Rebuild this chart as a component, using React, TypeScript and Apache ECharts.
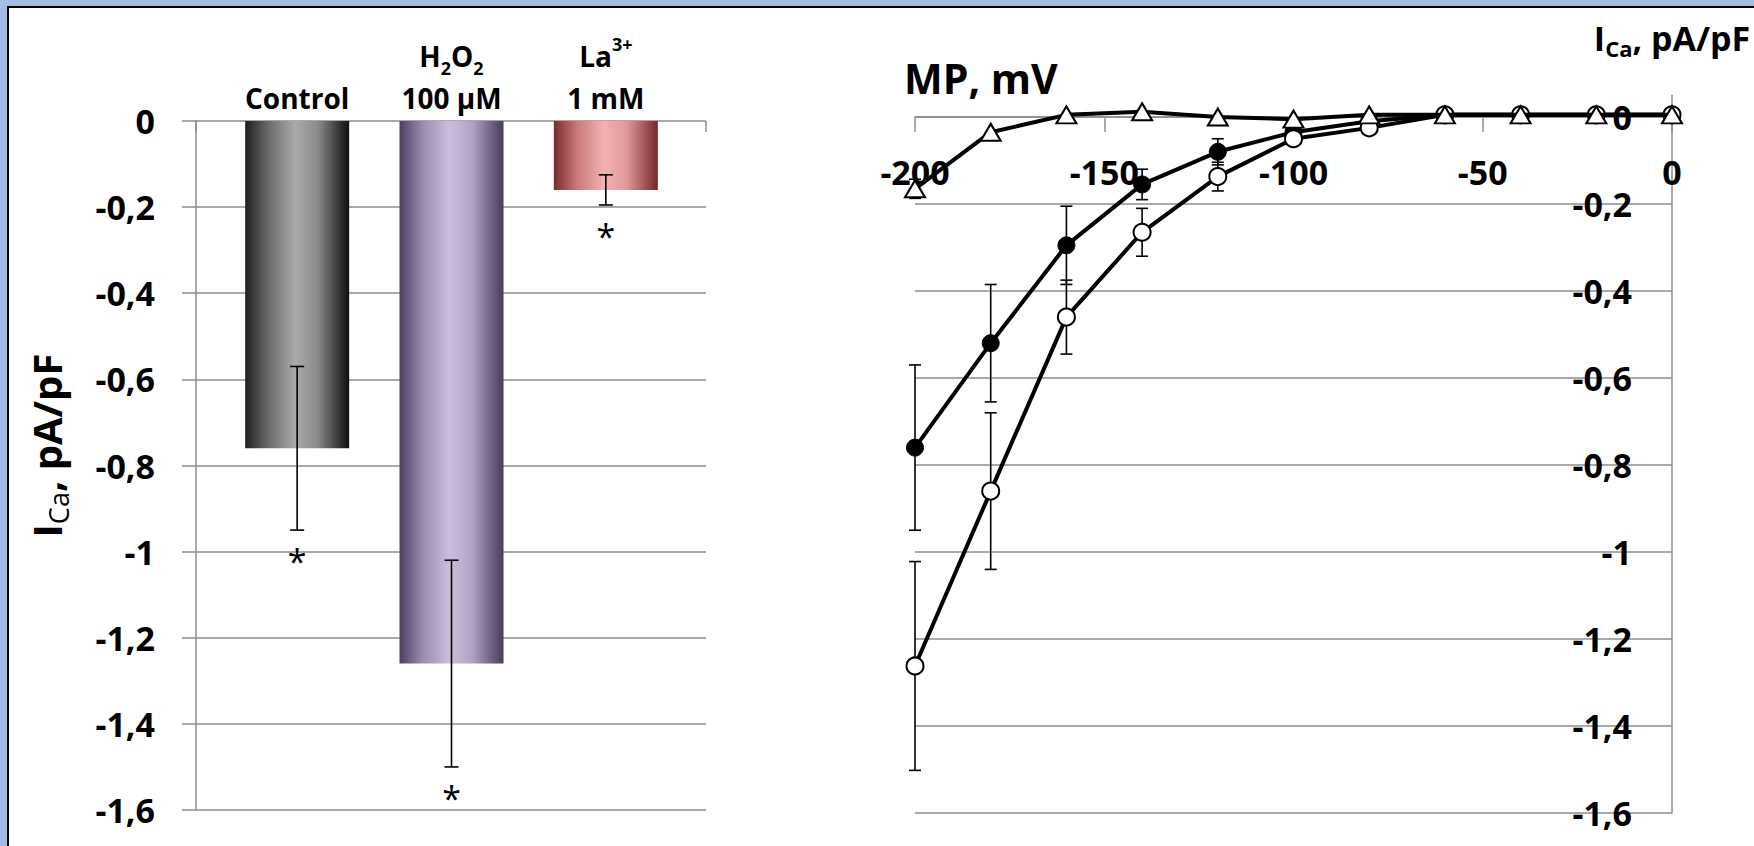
import React, { useEffect, useRef } from 'react';
import * as echarts from 'echarts';

// ---------- Left panel: bar chart ----------
const barCategories = ['Control', 'H{sub|2}O{sub|2}\n100 µM', 'La{sup|3+}\n1 mM'];
const barValues = [-0.76, -1.26, -0.16];
const barErrors = [0.19, 0.24, 0.035];
const barStars = ['*', '*', '*'];

// ---------- Right panel: I-V curves ----------
const mpValues = [-200, -180, -160, -140, -120, -100, -80, -60, -40, -20, 0];
const filledValues = [-0.76, -0.52, -0.295, -0.155, -0.08, -0.035, -0.01, 0.005, 0.005, 0.005, 0.005];
const filledErrors = [0.19, 0.135, 0.09, 0.035, 0.03, 0, 0, 0, 0, 0, 0];
const openValues = [-1.262, -0.86, -0.46, -0.265, -0.137, -0.05, -0.025, 0.005, 0.005, 0.005, 0.005];
const openErrors = [0.24, 0.18, 0.085, 0.055, 0.033, 0.012, 0, 0, 0, 0, 0];
const laValues = [-0.165, -0.035, 0.005, 0.012, 0.0, -0.005, 0.005, 0.005, 0.005, 0.005, 0.005];
const laErrors = [0.022, 0, 0, 0, 0, 0, 0, 0, 0, 0, 0];

const FONT = "'Open Sans', 'Noto Sans', sans-serif";
const GRID = '#8c8c8c';
const TICK_FS = 34;

const fmt = (v: number) => {
  const r = Math.round(v * 10) / 10;
  if (Math.abs(r) < 1e-9) return '0';
  if (Number.isInteger(r)) return String(r);
  return r.toFixed(1).replace('.', ',');
};

const barGradients = [
  ['#1e1e1e', '#6a6a6a', '#aaaaaa', '#8a8a8a', '#0e0e0e'],
  ['#4d3d63', '#9a8cae', '#cbbedb', '#b0a2c2', '#4a3a5e'],
  ['#7c2a2c', '#c97878', '#f3b1b1', '#e09a9a', '#782628'],
];

const mkGradient = (c: string[]) =>
  new echarts.graphic.LinearGradient(0, 0, 1, 0, [
    { offset: 0, color: c[0] },
    { offset: 0.22, color: c[1] },
    { offset: 0.48, color: c[2] },
    { offset: 0.7, color: c[3] },
    { offset: 1, color: c[4] },
  ]);

const App = () => {
  const ref = useRef<HTMLDivElement>(null);

  useEffect(() => {
    if (!ref.current) return;
    const chart = echarts.init(ref.current, undefined, { renderer: 'svg' });

    const ivErr: number[][] = [];
    [
      [filledValues, filledErrors],
      [openValues, openErrors],
      [laValues, laErrors],
    ].forEach(([vals, errs]) => {
      mpValues.forEach((x, i) => {
        if (errs[i] > 0) ivErr.push([x, vals[i] - errs[i], vals[i] + errs[i]]);
      });
    });

    const errRender = (capHalf: number, withStar: boolean) => (params: any, api: any) => {
      const lo = api.coord([api.value(0), api.value(1)]);
      const hi = api.coord([api.value(0), api.value(2)]);
      const st = { stroke: '#000', lineWidth: 1.6 };
      const children: any[] = [
        { type: 'line', shape: { x1: lo[0], y1: lo[1], x2: hi[0], y2: hi[1] }, style: st },
        { type: 'line', shape: { x1: lo[0] - capHalf, y1: lo[1], x2: lo[0] + capHalf, y2: lo[1] }, style: st },
        { type: 'line', shape: { x1: hi[0] - capHalf, y1: hi[1], x2: hi[0] + capHalf, y2: hi[1] }, style: st },
      ];
      if (withStar) {
        children.push({
          type: 'text',
          style: {
            text: barStars[params.dataIndex],
            x: lo[0],
            y: lo[1] + 14,
            align: 'center',
            verticalAlign: 'top',
            fontSize: 34,
            fontFamily: FONT,
            fill: '#000',
          },
        });
      }
      return { type: 'group', children };
    };

    const option: any = {
      animation: false,
      textStyle: { fontFamily: FONT },
      grid: [
        { left: 196, top: 121, width: 510, height: 689 },
        { left: 220, top: 121, width: 463, height: 689 },
        { left: 915, top: 95.25, width: 757, height: 717.75 },
      ],
      xAxis: [
        {
          gridIndex: 0,
          type: 'value',
          min: 0,
          max: 1,
          interval: 1,
          position: 'top',
          axisLine: { show: false },
          axisTick: { show: true, inside: true, length: 11, lineStyle: { color: GRID, width: 1.5 } },
          axisLabel: { show: false },
          splitLine: { show: false },
        },
        {
          gridIndex: 1,
          type: 'category',
          data: barCategories,
          position: 'top',
          axisLine: { show: false },
          axisTick: { show: false },
          splitLine: { show: false },
          axisLabel: {
            interval: 0,
            margin: 2,
            fontSize: 28,
            fontWeight: 'bold',
            color: '#000',
            lineHeight: 42,
            fontFamily: FONT,
            rich: {
              sub: { fontSize: 18, fontWeight: 'bold', verticalAlign: 'bottom', lineHeight: 18, fontFamily: FONT, color: '#000' },
              sup: { fontSize: 18, fontWeight: 'bold', verticalAlign: 'top', lineHeight: 22, fontFamily: FONT, color: '#000' },
            },
          },
        },
        {
          gridIndex: 2,
          type: 'value',
          min: -200,
          max: 0,
          interval: 50,
          position: 'top',
          axisLine: { show: true, onZero: true, lineStyle: { color: GRID, width: 1.5 } },
          axisTick: { show: true, inside: true, length: 15, lineStyle: { color: GRID, width: 1.5 } },
          splitLine: { show: false },
          axisLabel: {
            inside: true,
            margin: 60,
            fontSize: TICK_FS,
            fontWeight: 'bold',
            color: '#000',
            fontFamily: FONT,
            formatter: (v: number) => String(v),
          },
        },
      ],
      yAxis: [
        {
          gridIndex: 0,
          type: 'value',
          min: -1.6,
          max: 0,
          interval: 0.2,
          axisLine: { show: true, lineStyle: { color: GRID, width: 1.5 } },
          axisTick: { show: true, length: 14, lineStyle: { color: GRID, width: 1.5 } },
          splitLine: { show: true, lineStyle: { color: GRID, width: 1.5 } },
          axisLabel: {
            margin: 41,
            fontSize: TICK_FS,
            fontWeight: 'bold',
            color: '#000',
            fontFamily: FONT,
            formatter: fmt,
          },
          name: '{n|I}{sub|Ca}{n|, pA/pF}',
          nameLocation: 'middle',
          nameRotate: 90,
          nameGap: 124,
          nameTextStyle: {
            padding: [0, 0, 0, 40],
            lineHeight: 52,
            rich: {
              n: { fontSize: 40, fontWeight: 'bold', color: '#000', fontFamily: FONT, lineHeight: 52 },
              sub: { fontSize: 27, fontWeight: 'normal', color: '#000', fontFamily: FONT, verticalAlign: 'bottom', lineHeight: 27 },
            },
          },
        },
        { gridIndex: 1, type: 'value', min: -1.6, max: 0, show: false },
        {
          gridIndex: 2,
          type: 'value',
          min: -1.6,
          max: 0.05,
          interval: 0.2,
          position: 'right',
          axisLine: { show: true, onZero: false, lineStyle: { color: GRID, width: 1.5 } },
          axisTick: { show: false },
          splitLine: { show: true, showMaxLine: false, lineStyle: { color: GRID, width: 1.5 } },
          axisLabel: {
            inside: true,
            margin: 40,
            showMaxLabel: false,
            fontSize: TICK_FS,
            fontWeight: 'bold',
            color: '#000',
            fontFamily: FONT,
            formatter: fmt,
          },
          name: '{n|I}{sub|Ca}{n|, pA/pF}',
          nameLocation: 'end',
          nameGap: 36,
          nameTextStyle: {
            lineHeight: 42,
            rich: {
              n: { fontSize: 34, fontWeight: 'bold', color: '#000', fontFamily: FONT, lineHeight: 42 },
              sub: { fontSize: 22, fontWeight: 'bold', color: '#000', fontFamily: FONT, verticalAlign: 'bottom', lineHeight: 22 },
            },
          },
        },
      ],
      graphic: [
        {
          type: 'text',
          left: 904,
          top: 57,
          style: { text: 'MP, mV', fontSize: 41, fontWeight: 'bold', fill: '#000', fontFamily: FONT },
        },
      ],
      series: [
        {
          type: 'bar',
          xAxisIndex: 1,
          yAxisIndex: 1,
          barWidth: 104,
          z: 2,
          data: barValues.map((v, i) => ({ value: v, itemStyle: { color: mkGradient(barGradients[i]) } })),
        },
        {
          type: 'custom',
          xAxisIndex: 1,
          yAxisIndex: 1,
          z: 5,
          renderItem: errRender(7, true),
          data: barValues.map((v, i) => [i, v - barErrors[i], v + barErrors[i]]),
        },
        {
          type: 'custom',
          xAxisIndex: 2,
          yAxisIndex: 2,
          z: 1,
          renderItem: errRender(6, false),
          data: ivErr,
        },
        {
          type: 'line',
          xAxisIndex: 2,
          yAxisIndex: 2,
          z: 3,
          data: mpValues.map((x, i) => [x, filledValues[i]]),
          symbol: 'circle',
          symbolSize: 17,
          lineStyle: { color: '#000', width: 4 },
          itemStyle: { color: '#000', borderColor: '#000', borderWidth: 1 },
        },
        {
          type: 'line',
          xAxisIndex: 2,
          yAxisIndex: 2,
          z: 3,
          data: mpValues.map((x, i) => [x, openValues[i]]),
          symbol: 'circle',
          symbolSize: 17,
          lineStyle: { color: '#000', width: 4 },
          itemStyle: { color: '#fff', borderColor: '#000', borderWidth: 2 },
        },
        {
          type: 'line',
          xAxisIndex: 2,
          yAxisIndex: 2,
          z: 4,
          data: mpValues.map((x, i) => [x, laValues[i]]),
          symbol: 'triangle',
          symbolSize: [20, 17],
          lineStyle: { color: '#000', width: 4 },
          itemStyle: { color: '#fff', borderColor: '#000', borderWidth: 2 },
        },
      ],
    };

    chart.setOption(option);
    return () => chart.dispose();
  }, []);

  return (
    <div style={{ position: 'fixed', left: 0, top: 0, width: 1754, height: 846, background: '#a4bde6', overflow: 'hidden' }}>
      <div
        style={{
          position: 'absolute',
          left: 7,
          top: 6,
          right: 0,
          bottom: 0,
          background: '#fff',
          borderLeft: '2px solid #000',
          borderTop: '2px solid #000',
        }}
      />
      <div ref={ref} style={{ position: 'absolute', left: 0, top: 0, width: 1754, height: 846 }} />
    </div>
  );
};

export default App;
